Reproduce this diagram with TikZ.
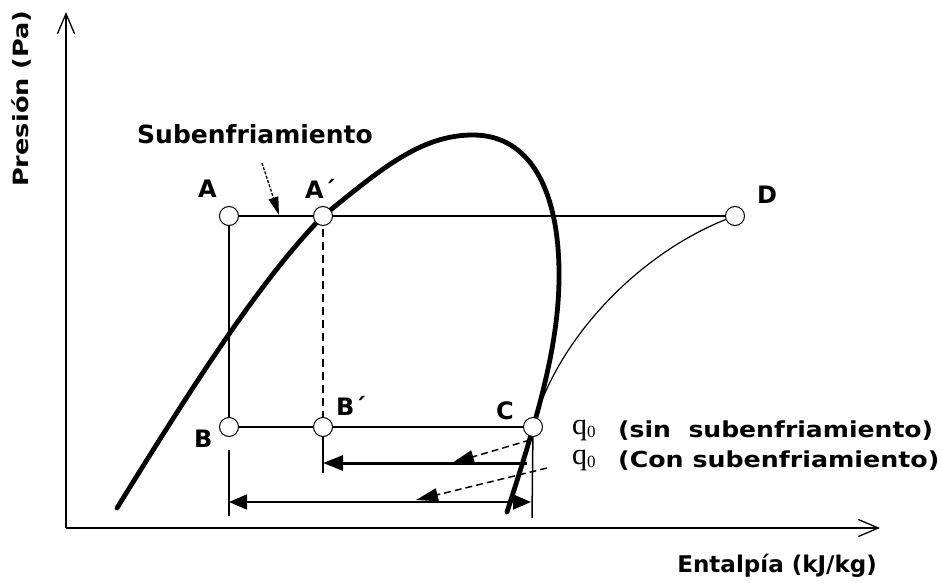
\documentclass[tikz,border=0pt]{standalone}
\usepackage{fontspec}
\setmainfont{DejaVu Sans}
\newfontfamily\serifq{Liberation Serif}
\usetikzlibrary{arrows.meta}
\begin{document}
\begin{tikzpicture}[x=1pt,y=-1pt]
\useasboundingbox (0,0) rectangle (942,583);
\tikzset{
  pt/.style={circle,draw,fill=white,minimum size=19pt,inner sep=0pt,line width=1pt},
  fine/.style={line width=1.2pt},
  axisline/.style={line width=1.6pt,-{Straight Barb[length=20pt,width=17pt,line width=1.3pt]}},
  lbl/.style={font=\bfseries\fontsize{24}{24}\selectfont,inner sep=0pt},
  biglbl/.style={font=\bfseries\fontsize{25}{25}\selectfont,inner sep=0pt},
  qlbl/.style={font=\bfseries\fontsize{22}{22}\selectfont,inner sep=0pt},
  qsym/.style={font=\serifq\fontsize{30}{30}\selectfont,inner sep=0pt},
  dome/.style={line width=4.8pt,line join=round,line cap=round},
  lead/.style={line width=1.5pt,dash pattern=on 7pt off 4pt,-{Triangle[length=22pt,width=13pt]}},
}
% coordinates
\coordinate (O) at (66,528);
\coordinate (Ytip) at (66,12);
\coordinate (Xtip) at (880,528);
\coordinate (A) at (229,216);
\coordinate (Ap) at (323,216);
\coordinate (D) at (735,216);
\coordinate (B) at (229,427);
\coordinate (Bp) at (323,427);
\coordinate (C) at (533,427);
\coordinate (q1L) at (323,463);
\coordinate (q1R) at (527,463);
\coordinate (q1bar) at (323,473);
\coordinate (q2L) at (229,502);
\coordinate (q2R) at (531,502);
\coordinate (q2barT) at (229,450);
\coordinate (q2barB) at (229,516);
\coordinate (Cbar) at (532,518);
\coordinate (L1s) at (530,440);
\coordinate (L1e) at (452,463);
\coordinate (L2s) at (547,468);
\coordinate (L2e) at (416,500);
\coordinate (Ss) at (262,163);
\coordinate (Se) at (279,215);
\coordinate (dome0) at (117,508);
\coordinate (dome1) at (473,135);
\coordinate (dome2) at (559,270);
\coordinate (dome3) at (507,512);
% axes
\draw[axisline] (O) -- (Ytip);
\draw[axisline] (O) -- (Xtip);
% cycle lines
\draw[fine] (A) -- (Ap) -- (D);
\draw[fine] (A) -- (B);
\draw[fine] (B) -- (Bp) -- (C);
\draw[fine,dash pattern=on 8pt off 5pt] (Ap) -- (Bp);
\draw[fine] (C) .. controls (556,340) and (640,250) .. (D);
% saturation dome
\draw[dome] (dome0) .. controls (190,390) and (260,280) .. (Ap)
  .. controls (380,170) and (420,135) .. (dome1)
  .. controls (530,135) and (558,190) .. (dome2)
  .. controls (560,340) and (540,410) .. (dome3);
% q0 arrows
\draw[line width=2pt] (Bp) -- (q1bar);
\draw[line width=3pt,-{Triangle[length=20pt,width=15pt]}] (q1R) -- (q1L);
\draw[line width=1.5pt] (q2barT) -- (q2barB);
\draw[line width=1.5pt] (C) -- (Cbar);
\draw[line width=1.8pt,{Triangle[length=18pt,width=15pt]}-{Triangle[length=18pt,width=15pt]}] (q2L) -- (q2R);
% leaders
\draw[lead] (L1s) -- (L1e);
\draw[lead] (L2s) -- (L2e);
\draw[line width=1.3pt,dash pattern=on 3pt off 1.5pt,-{Triangle[length=18pt,width=10pt]}] (Ss) -- (Se);
% state points
\foreach \p in {A,Ap,D,B,Bp,C} \node[pt] (n\p) at (\p) {};
% labels
\node[biglbl,anchor=base west] (tSub) at (137,143) {Subenfriamiento};
\node[lbl,anchor=base west] (tA) at (198,197) {A};
\node[lbl,anchor=base west] (tAp) at (305,198) {A´};
\node[lbl,anchor=base west] (tD) at (757,203) {D};
\node[lbl,anchor=base west] (tB) at (194,447) {B};
\node[lbl,anchor=base west] (tBp) at (336,415) {B´};
\node[lbl,anchor=base west] (tC) at (496,419) {C};
\node[rotate=90,anchor=base west,inner sep=0pt,font=\bfseries\fontsize{21}{21}\selectfont] (tY) at (28,187) {\scalebox{1.22}[1]{Presión (Pa)}};
\node[font=\bfseries\fontsize{23}{23}\selectfont,inner sep=0pt,anchor=base east] (tX) at (877,572) {Entalpía (kJ/kg)};
\node[qsym,anchor=base west] (q1) at (572,434) {q\raisebox{-3pt}{\fontsize{17}{17}\selectfont 0}};
\node[qlbl,anchor=base west] (t1) at (618,437) {\scalebox{1.14}[1]{(sin\ \ subenfriamiento)}};
\node[qsym,anchor=base west] (q2) at (572,464) {q\raisebox{-3pt}{\fontsize{17}{17}\selectfont 0}};
\node[qlbl,anchor=base west] (t2) at (618,467) {\scalebox{1.15}[1]{(Con subenfriamiento)}};
\end{tikzpicture}
\end{document}
